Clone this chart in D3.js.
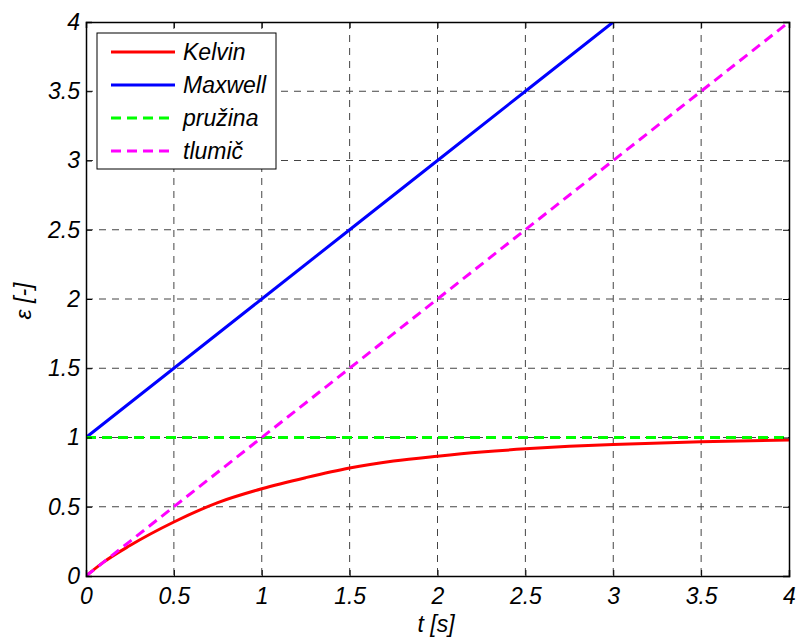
<!DOCTYPE html>
<html>
<head>
<meta charset="utf-8">
<script src="https://cdn.jsdelivr.net/npm/d3@7.9.0/dist/d3.min.js"></script>
<style>
  body { margin: 0; background: #fff; }
  text { font-family: "Liberation Sans", Arial, sans-serif; font-style: italic; }
</style>
</head>
<body>
<svg id="chart" width="800" height="637"></svg>
<script>
// values
const xTicks = [0, 0.5, 1, 1.5, 2, 2.5, 3, 3.5, 4];
const yTicks = [0, 0.5, 1, 1.5, 2, 2.5, 3, 3.5, 4];
const tKelvin = [0, 0.1, 0.25, 0.5, 0.75, 1, 1.25, 1.5, 1.75, 2, 2.25, 2.5, 2.75, 3, 3.5, 4];
const eKelvin = [0, 0.1, 0.22, 0.39, 0.53, 0.63, 0.71, 0.78, 0.83, 0.865, 0.895, 0.918, 0.936, 0.95, 0.97, 0.982];
const tMaxwell = [0, 0.5, 1, 1.5, 2, 2.5, 3];
const eMaxwell = [1, 1.5, 2, 2.5, 3, 3.5, 4];
const tSpring = [0, 4];
const eSpring = [1, 1];
const tDamper = [0, 1, 2, 3, 4];
const eDamper = [0, 1, 2, 3, 4];
const names = ['Kelvin', 'Maxwell', 'pružina', 'tlumič'];
const colors = ['#ff0000', '#0000ff', '#00ff00', '#ff00ff'];
const dashed = [false, false, true, true];

const margin = { left: 86, right: 11, top: 22, bottom: 61 };
const width = 800 - margin.left - margin.right;
const height = 637 - margin.top - margin.bottom;
const fs = 23;

const svg = d3.select('#chart');
const g = svg.append('g').attr('transform', `translate(${margin.left},${margin.top})`);

const x = d3.scaleLinear().domain([0, 4]).range([0, width]);
const y = d3.scaleLinear().domain([0, 4]).range([height, 0]);

// grid
g.selectAll('.gx').data(xTicks.slice(1, -1)).enter().append('line')
  .attr('x1', d => x(d)).attr('x2', d => x(d)).attr('y1', 0).attr('y2', height)
  .attr('stroke', '#444').attr('stroke-width', 1).attr('stroke-dasharray', '7,6');
g.selectAll('.gy').data(yTicks.slice(1, -1)).enter().append('line')
  .attr('x1', 0).attr('x2', width).attr('y1', d => y(d)).attr('y2', d => y(d))
  .attr('stroke', '#444').attr('stroke-width', 1).attr('stroke-dasharray', '7,6');

// clip for data
g.append('clipPath').attr('id', 'clip').append('rect')
  .attr('width', width).attr('height', height);

const series = [
  [tKelvin, eKelvin], [tMaxwell, eMaxwell], [tSpring, eSpring], [tDamper, eDamper]
];
const line = d3.line().x(d => x(d[0])).y(d => y(d[1]));

series.forEach((s, i) => {
  const pts = s[0].map((t, j) => [t, s[1][j]]);
  g.append('path')
    .attr('clip-path', 'url(#clip)')
    .attr('d', line.curve(i === 0 ? d3.curveMonotoneX : d3.curveLinear)(pts))
    .attr('fill', 'none')
    .attr('stroke', colors[i])
    .attr('stroke-width', 3)
    .attr('stroke-dasharray', dashed[i] ? '10,6' : null);
});

// axes (ticks inside, box on all sides)
const xAxis = d3.axisBottom(x).tickValues(xTicks).tickSize(-6).tickPadding(12).tickFormat(d3.format('~g'));
const yAxis = d3.axisLeft(y).tickValues(yTicks).tickSize(-6).tickPadding(6).tickFormat(d3.format('~g'));
const gx = g.append('g').attr('transform', `translate(0,${height})`).call(xAxis);
const gy = g.append('g').call(yAxis);
g.append('g').call(d3.axisTop(x).tickValues(xTicks).tickSize(-6).tickFormat(''));
g.append('g').attr('transform', `translate(${width},0)`).call(d3.axisRight(y).tickValues(yTicks).tickSize(-6).tickFormat(''));
g.selectAll('.domain').attr('stroke', '#000').attr('stroke-width', 1.5);
g.selectAll('.tick line').attr('stroke', '#000');
[gx, gy].forEach(a => a.selectAll('text')
  .attr('font-size', fs).attr('fill', '#000')
  .style('font-family', '"Liberation Sans", Arial, sans-serif').style('font-style', 'italic'));

// axis labels
svg.append('text').attr('x', 436).attr('y', 632).attr('text-anchor', 'middle')
  .attr('font-size', fs).text('t [s]');
svg.append('text').attr('transform', 'translate(31,301) rotate(-90)').attr('text-anchor', 'middle')
  .attr('font-size', fs).text('ε [-]');

// legend
const lg = svg.append('g').attr('transform', 'translate(97,33)');
lg.append('rect').attr('width', 179).attr('height', 136)
  .attr('fill', '#fff').attr('stroke', '#000').attr('stroke-width', 1);
names.forEach((n, i) => {
  const yy = 19 + i * 33;
  lg.append('line').attr('x1', 14).attr('x2', 78).attr('y1', yy).attr('y2', yy)
    .attr('stroke', colors[i]).attr('stroke-width', 3)
    .attr('stroke-dasharray', dashed[i] ? '10,6' : null);
  lg.append('text').attr('x', 86).attr('y', yy).attr('dy', '0.35em')
    .attr('font-size', fs).text(n);
});
</script>
</body>
</html>
